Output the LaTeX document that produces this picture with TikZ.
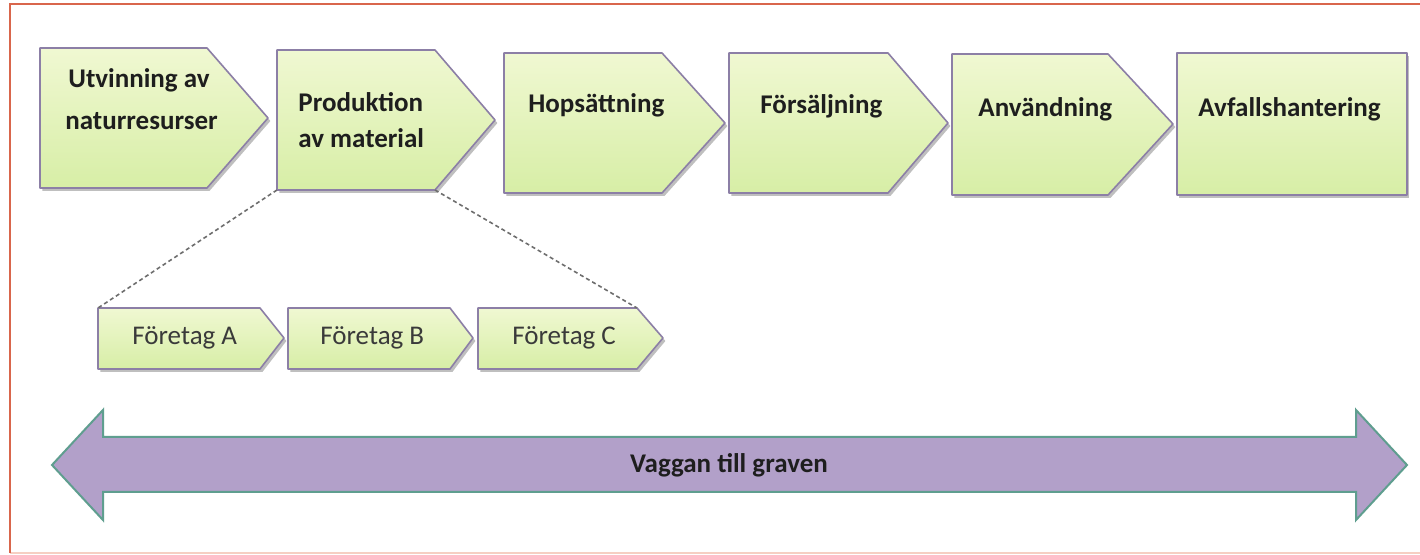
\documentclass[tikz,border=0pt]{standalone}
\usepackage{fontspec}
\setmainfont{Carlito}
\usetikzlibrary{shadows}
\definecolor{frameC}{HTML}{D9664C}
\definecolor{frameB}{HTML}{F6CFC3}
\definecolor{boxLine}{HTML}{8C7FA6}
\definecolor{boxTop}{HTML}{F0F8D2}
\definecolor{boxBot}{HTML}{D7EEA6}
\definecolor{arrFill}{HTML}{B2A0C9}
\definecolor{arrLine}{HTML}{5F9E8F}
\definecolor{dotC}{HTML}{6E6E6E}
\definecolor{txtC}{HTML}{1E1E1E}
\definecolor{txtS}{HTML}{3A3A3A}
\tikzset{
  stepbox/.style={draw=boxLine, line width=0.8pt, line join=round, top color=boxTop, bottom color=boxBot,
    drop shadow={shadow xshift=1.2pt, shadow yshift=-1.5pt, opacity=0.25, fill=black}},
  bigtxt/.style={anchor=base west, inner sep=0pt, text=txtC, font=\fontsize{13.5}{16}\selectfont\bfseries},
  smalltxt/.style={anchor=base west, inner sep=0pt, text=txtS, font=\fontsize{13.5}{16}\selectfont},
  zoomline/.style={draw=dotC, line width=0.8pt, dash pattern=on 2pt off 1.5pt},
  lifearrow/.style={draw=arrLine, line width=1pt, fill=arrFill, line join=miter}
}
\begin{document}
\begin{tikzpicture}[x=0.5pt,y=-0.5pt]
\useasboundingbox (0,0) rectangle (1420,555);
\fill[white] (0,0) rectangle (1420,555);
% frame
\draw[frameB, line width=1.2pt] (10,553) -- (1425,553);
\draw[frameC, line width=1.2pt] (1425,4) -- (10,4) -- (10,553);

% main steps
\path[stepbox] (40,48) -- (207,48) -- (268,118) -- (207,188) -- (40,188) -- cycle;
\path[stepbox] (277,50) -- (435,50) -- (495,120) -- (435,190) -- (277,190) -- cycle;
\path[stepbox] (504,53) -- (662,53) -- (725,123) -- (662,193) -- (504,193) -- cycle;
\path[stepbox] (729,53) -- (888,53) -- (948,123) -- (888,193) -- (729,193) -- cycle;
\path[stepbox] (952,54) -- (1108,54) -- (1173,124) -- (1108,195) -- (952,195) -- cycle;
\path[stepbox] (1177,53) rectangle (1407,195);

\node[bigtxt] (s1a) at (68,88) {Utvinning av};
\node[bigtxt] (s1b) at (65,130) {naturresurser};
\node[bigtxt] (s2a) at (298,112) {Produktion};
\node[bigtxt] (s2b) at (298,148) {av material};
\node[bigtxt] (s3) at (528,113) {Hopsättning};
\node[bigtxt] (s4) at (760,114) {Försäljning};
\node[bigtxt] (s5) at (978,117) {Användning};
\node[bigtxt] (s6) at (1198,117) {Avfallshantering};

% company steps
\path[stepbox] (98,308) -- (260,308) -- (284,338) -- (260,369) -- (98,369) -- cycle;
\path[stepbox] (288,308) -- (450,308) -- (473,338) -- (450,369) -- (288,369) -- cycle;
\path[stepbox] (478,308) -- (637,308) -- (663,338) -- (637,369) -- (478,369) -- cycle;
\node[smalltxt] (fa) at (132,345) {Företag A};
\node[smalltxt] (fb) at (320,345) {Företag B};
\node[smalltxt] (fc) at (512,345) {Företag C};

% zoom connectors
\coordinate (prodBL) at (277,190);
\coordinate (prodBR) at (435,190);
\coordinate (faTL) at (98,308);
\coordinate (fcTR) at (637,308);
\draw[zoomline] (prodBL) -- (faTL);
\draw[zoomline] (prodBR) -- (fcTR);

% life cycle arrow
\path[lifearrow] (52,465) -- (103,410) -- (103,437) -- (1356,437) -- (1356,410) -- (1407,465)
  -- (1356,520) -- (1356,492) -- (103,492) -- (103,520) -- cycle;
\node[bigtxt, anchor=base] (life) at (729,473) {Vaggan till graven};
\end{tikzpicture}
\end{document}
